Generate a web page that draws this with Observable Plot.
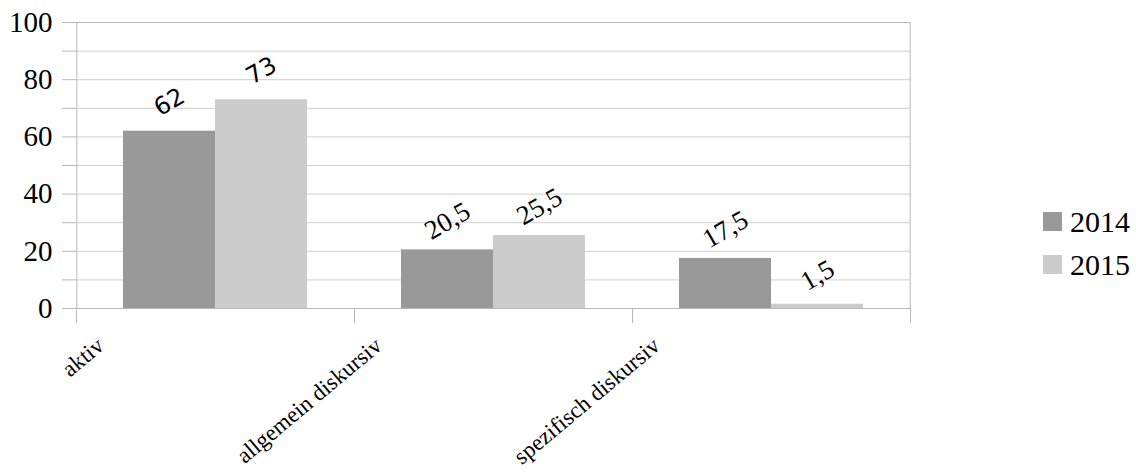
<!DOCTYPE html>
<html>
<head>
<meta charset="utf-8">
<script src="https://cdn.jsdelivr.net/npm/d3@7"></script>
<script src="https://cdn.jsdelivr.net/npm/@observablehq/plot@0.6"></script>
<style>
  body { margin: 0; background: #fff; }
  #wrap { position: relative; width: 1136px; height: 473px; font-family: 'Liberation Serif', serif; }
  #legend { position: absolute; left: 1043px; top: 200px; font-size: 30px; color: #000; }
  .item { display: flex; align-items: center; height: 43px; }
  .sw { width: 19px; height: 19px; margin-right: 8px; }
</style>
</head>
<body>
<div id="wrap"><div id="legend"></div></div>
<script>
const categories = ["aktiv", "allgemein diskursiv", "spezifisch diskursiv"];
const years = ["2014", "2015"];
const values2014 = [62, 20.5, 17.5];
const values2015 = [73, 25.5, 1.5];
const yTicks = [0, 10, 20, 30, 40, 50, 60, 70, 80, 90, 100];
const colors = ["#999999", "#cccccc"];

const data = [];
categories.forEach((c, i) => {
  data.push({cat: c, year: years[0], value: values2014[i]});
  data.push({cat: c, year: years[1], value: values2015[i]});
});
const fmt = v => String(v).replace(".", ",");

const serif = "'Liberation Serif', 'Times New Roman', serif";
const sans = "'DejaVu Sans', sans-serif";
const W = 1136, H = 473, mL = 76, mR = 226, mT = 22, mB = 165;
const facetW = (W - mL - mR) / categories.length;
const step = facetW / (years.length + 1);
const innerH = H - mT - mB;
const lineColor = "#b8b8b8";

const chart = Plot.plot({
  width: W, height: H,
  marginLeft: mL, marginRight: mR, marginTop: mT, marginBottom: mB,
  style: {fontFamily: serif, fontSize: "23px", color: "#000", background: "#fff"},
  fx: {domain: categories, padding: 0, label: null, axis: null},
  x: {domain: years, paddingInner: 0, paddingOuter: 0.5, axis: null},
  y: {domain: [0, 100], axis: null},
  color: {domain: years, range: colors},
  marks: [
    Plot.ruleY(yTicks, {stroke: "#cfcfcf", strokeWidth: 1}),
    Plot.ruleY([0], {stroke: lineColor}),
    Plot.ruleY([100], {stroke: lineColor}),
    Plot.frame({anchor: "left", insetTop: innerH, insetBottom: -14, stroke: lineColor}),
    Plot.frame({anchor: "right", insetTop: innerH, insetBottom: -14, stroke: lineColor}),
    Plot.ruleX([{cat: categories[0], year: years[0]}], {fx: "cat", x: "year", dx: -step, y1: 0, y2: 100, stroke: lineColor}),
    Plot.ruleX([{cat: categories[categories.length - 1], year: years[years.length - 1]}], {fx: "cat", x: "year", dx: step, y1: 0, y2: 100, stroke: lineColor}),
    Plot.axisY({ticks: yTicks, tickFormat: d => d % 20 === 0 ? d : "", tickSize: 14, tickPadding: 10, stroke: lineColor, fontSize: 29, fontFamily: serif, fill: "#000", label: null}),
    Plot.axisFx({anchor: "bottom", tickRotate: -40, tickSize: 0, tickPadding: 34, dx: -115, fontSize: 23, fontFamily: serif, fill: "#000", label: null}),
    Plot.barY(data, {fx: "cat", x: "year", y: "value", fill: "year"}),
    Plot.text(data.filter(d => Number.isInteger(d.value)), {fx: "cat", x: "year", y: "value", text: d => fmt(d.value), dy: -29, rotate: -30, fontSize: 24, fontFamily: sans, fill: "#000"}),
    Plot.text(data.filter(d => !Number.isInteger(d.value)), {fx: "cat", x: "year", y: "value", text: d => fmt(d.value), dy: -29, rotate: -30, fontSize: 27, fontFamily: serif, fill: "#000"})
  ]
});
document.getElementById("wrap").prepend(chart);

const legend = document.getElementById("legend");
years.forEach((y, i) => {
  const it = document.createElement("div");
  it.className = "item";
  it.innerHTML = `<div class="sw" style="background:${colors[i]}"></div><span>${y}</span>`;
  legend.appendChild(it);
});
</script>
</body>
</html>
